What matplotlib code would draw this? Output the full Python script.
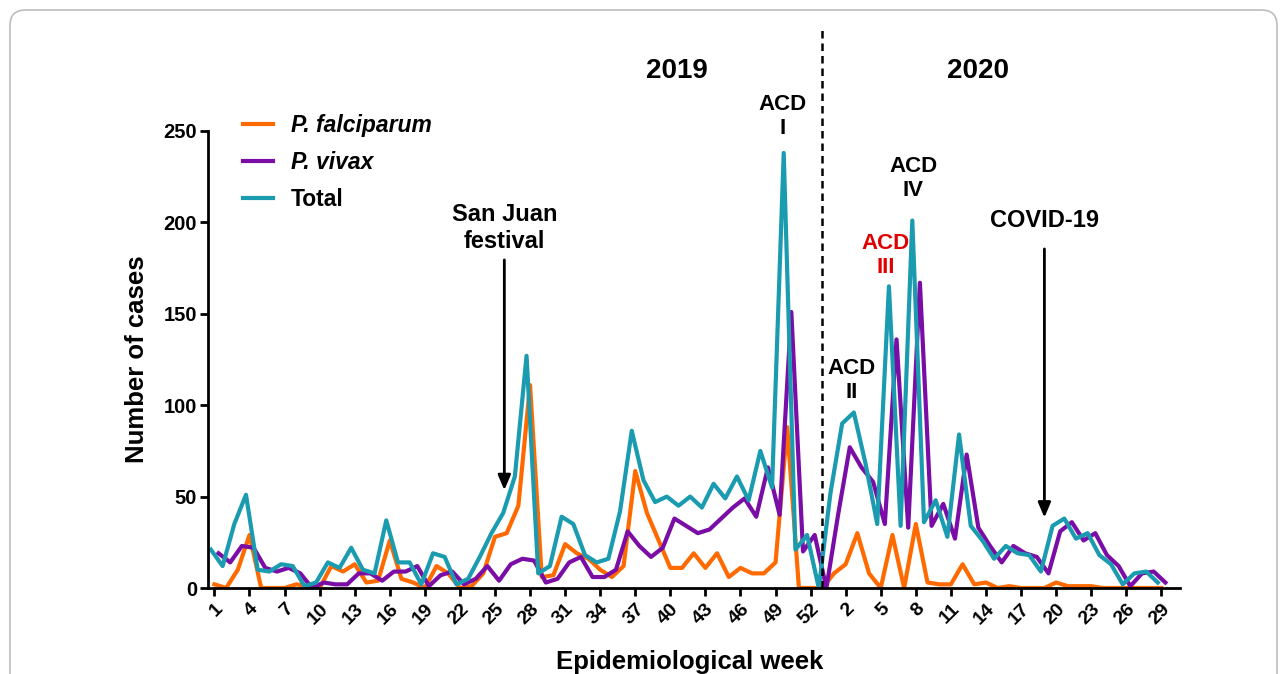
import numpy as np
import matplotlib
matplotlib.use("Agg")
import matplotlib.pyplot as plt
from matplotlib.patches import FancyBboxPatch

plt.rcParams["font.family"] = ["Liberation Sans", "DejaVu Sans"]
plt.rcParams["font.weight"] = "bold"

# weekly case counts: 2019 weeks 1-52, one empty week at the year change, 2020 weeks 1-29
falciparum_2019 = [2, 0, 10, 29, 0, 0, 0, 2, 1, 0, 12, 9, 13, 3, 4, 26, 5, 3, 0, 12,
                   8, 0, 1, 8, 28, 30, 45, 111, 6, 7, 24, 19, 16, 10, 6, 12, 64, 41, 26, 11,
                   11, 19, 11, 19, 6, 11, 8, 8, 14, 88, 0, 0]
vivax_2019 = [19, 14, 23, 22, 11, 9, 11, 8, 0, 3, 2, 2, 8, 8, 4, 9, 9, 12, 1, 7,
              9, 2, 5, 12, 4, 13, 16, 15, 3, 5, 14, 17, 6, 6, 10, 31, 23, 17, 22, 38,
              34, 30, 32, 38, 44, 49, 39, 66, 40, 151, 20, 29]
total_2019 = [21, 12, 35, 51, 10, 9, 13, 12, 1, 3, 14, 11, 22, 10, 8, 37, 14, 14, 2, 19,
              17, 2, 5, 17, 30, 41, 61, 127, 8, 12, 39, 35, 18, 14, 16, 42, 86, 59, 47, 50,
              45, 50, 44, 57, 49, 61, 48, 75, 55, 238, 21, 29]
gap_week = [0]
falciparum_2020 = [8, 13, 30, 8, 0, 29, 0, 35, 3, 2, 2, 13, 2, 3, 0, 1, 0, 0, 0, 3,
                   1, 1, 1, 0, 0, 0, 0, 0, 0]
vivax_2020 = [40, 77, 66, 58, 35, 136, 33, 167, 34, 46, 27, 73, 33, 23, 14, 23, 19, 17, 8, 31,
              36, 26, 30, 18, 12, 1, 8, 9, 3]
total_2020 = [52, 90, 96, 68, 35, 165, 34, 201, 36, 48, 28, 84, 34, 26, 16, 23, 19, 18, 9, 34,
              38, 27, 30, 18, 13, 2, 8, 9, 3]

falciparum = falciparum_2019 + gap_week + falciparum_2020
vivax = vivax_2019 + gap_week + vivax_2020
total = total_2019 + gap_week + total_2020

weeks_2019 = list(range(1, 53))
weeks_2020 = list(range(1, 30))
tick_weeks_2019 = list(range(1, 53, 3))
tick_weeks_2020 = list(range(2, 30, 3))

# running position of every week on the x axis
pos = np.arange(1, len(total) + 1)
split = len(weeks_2019) + 1          # the empty week between the two years
tick_pos = tick_weeks_2019 + [split + w for w in tick_weeks_2020]
tick_lab = [str(w) for w in tick_weeks_2019 + tick_weeks_2020]

c_fal = "#FF6A00"
c_viv = "#7A0DA6"
c_tot = "#1B9BB0"

fig = plt.figure(figsize=(12.87, 6.74), dpi=100)
W, H = 1287, 674
ax = fig.add_axes([208 / W, 1 - 588 / H, 972 / W, 457 / H])

ax.plot(pos, falciparum, color=c_fal, lw=3, label="P. falciparum")
ax.plot(pos + 0.35, vivax, color=c_viv, lw=3, label="P. vivax")
ax.plot(pos - 0.3, total, color=c_tot, lw=3, label="Total")

ax.set_xlim(0.45, 83.6)
ax.set_ylim(0, 250)
ax.set_yticks(range(0, 251, 50))
ax.set_xticks(tick_pos)
ax.set_xticklabels(tick_lab, rotation=45, ha="right", va="top",
                   rotation_mode="anchor", fontsize=14, fontweight="bold")
for s in ["top", "right"]:
    ax.spines[s].set_visible(False)
for s in ["left", "bottom"]:
    ax.spines[s].set_linewidth(2)
ax.tick_params(direction="out", length=6, width=2)
ax.tick_params(axis="y", labelsize=14.5, pad=2)
ax.tick_params(axis="x", pad=3)
for t in ax.get_yticklabels():
    t.set_fontweight("bold")

ax.set_ylabel("Number of cases", fontsize=18.5, fontweight="bold", labelpad=10)
fig.text(690 / W, 1 - 669 / H, "Epidemiological week", fontsize=18.5,
         fontweight="bold", ha="center", va="baseline")

# year separator
ax.axvline(split, ymin=0, ymax=(588 - 28) / 457, color="black", lw=1.8,
           ls=(0, (3, 2)), clip_on=False)

ax.text(40.6, 283, "2019", fontsize=20, ha="center", va="center", clip_on=False)
ax.text(66.3, 283, "2020", fontsize=20, ha="center", va="center", clip_on=False)

kw = dict(fontsize=16, ha="center", va="center", linespacing=1.15, clip_on=False)
ax.text(49.6, 258, "ACD\nI", **kw)
ax.text(55.5, 113.5, "ACD\nII", **kw)
ax.text(58.4, 182, "ACD\nIII", color="#E00000", **kw)
ax.text(60.8, 224, "ACD\nIV", **kw)
ax.text(25.8, 197, "San Juan\nfestival", fontsize=17, ha="center", va="center",
        linespacing=1.22, clip_on=False)
ax.text(72.0, 201, "COVID-19", fontsize=17, ha="center", va="center", clip_on=False)

arrow = dict(arrowstyle="-|>,head_length=0.9,head_width=0.38", color="black", lw=2)
ax.annotate("", xy=(25.8, 52), xytext=(25.8, 181), arrowprops=arrow)
ax.annotate("", xy=(72.0, 37), xytext=(72.0, 187), arrowprops=arrow)

leg = ax.legend(loc="upper left", bbox_to_anchor=(243 / W, 1 - 114 / H),
                bbox_transform=fig.transFigure, frameon=False, fontsize=16.5,
                borderpad=0, borderaxespad=0, handlelength=1.3,
                handletextpad=0.8, labelspacing=0.62)
for i, t in enumerate(leg.get_texts()):
    t.set_fontweight("bold")
    if i < 2:
        t.set_fontstyle("italic")

# rounded frame around the figure
frame = FancyBboxPatch((10 / W, -0.05), 1267 / W, 1 - 10 / H + 0.05,
                       boxstyle="round,pad=0,rounding_size=0.012",
                       transform=fig.transFigure, fill=False,
                       edgecolor="#bdbdbd", lw=1.2, mutation_aspect=W / H)
fig.patches.append(frame)

fig.savefig("out.png", dpi=100)
